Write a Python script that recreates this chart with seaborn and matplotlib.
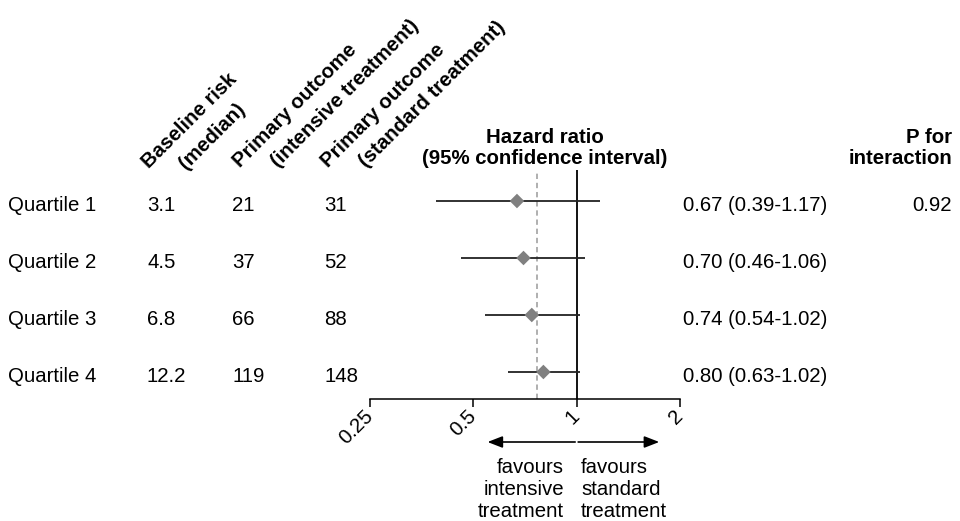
import numpy as np
import pandas as pd
import seaborn as sns
import matplotlib
matplotlib.use("Agg")
import matplotlib.pyplot as plt
from matplotlib import transforms

# ---- data ----
quartiles = ["Quartile 1", "Quartile 2", "Quartile 3", "Quartile 4"]
baseline_risk = [3.1, 4.5, 6.8, 12.2]
events_intensive = [21, 37, 66, 119]
events_standard = [31, 52, 88, 148]
hazard_ratio = [0.67, 0.70, 0.74, 0.80]
ci_low = [0.39, 0.46, 0.54, 0.63]
ci_high = [1.17, 1.06, 1.02, 1.02]
p_interaction = ["0.92", "", "", ""]
overall_hr = 0.765
x_ticks = [0.25, 0.5, 1, 2]
x_tick_labels = ["0.25", "0.5", "1", "2"]

df = pd.DataFrame({
    "quartile": quartiles,
    "row": np.arange(len(quartiles)),
    "hr": hazard_ratio,
    "lo": ci_low,
    "hi": ci_high,
})

sns.set_style("white")
plt.rcParams["font.family"] = ["Liberation Sans", "DejaVu Sans"]
plt.rcParams["text.color"] = "black"

W, H, DPI = 960, 521, 100
fig = plt.figure(figsize=(W / DPI, H / DPI), dpi=DPI)

def fx(px):
    return px / W

def fy(py):
    return 1 - py / H

ax = fig.add_axes([fx(370), fy(399), fx(680) - fx(370), (399 - 170) / H])
ax.set_xscale("log", base=2)
ax.set_xlim(0.25, 2)
ax.set_ylim(3.474, -0.544)

# reference lines
ax.axvline(1, color="black", lw=1.3, zorder=1)
ax.axvline(overall_hr, color="#9a9a9a", lw=1.1, ls=(0, (3.5, 2.5)), zorder=1)

# CI lines
ax.hlines(df["row"], df["lo"], df["hi"], color="#222222", lw=1.3, zorder=2)
sns.scatterplot(data=df, x="hr", y="row", marker="D", s=55, color="#808080",
                edgecolor="none", ax=ax, zorder=3, legend=False)

fs = 14.7
ax.set_xlabel("")
ax.set_ylabel("")
ax.set_yticks([])
ax.set_xticks(x_ticks)
ax.set_xticklabels(x_tick_labels, rotation=45, ha="right", va="center",
                   rotation_mode="anchor", fontsize=fs)
ax.xaxis.set_minor_locator(matplotlib.ticker.NullLocator())
ax.tick_params(axis="x", bottom=True, direction="out", length=6, width=1.1,
               color="black", pad=4, labelcolor="black")
sns.despine(ax=ax, left=True, top=True, right=True)
ax.spines["bottom"].set_color("black")
ax.spines["bottom"].set_linewidth(1.1)
ax.set_facecolor("none")

# row texts: x in figure fraction, y in data (baseline shifted a little below row)
blend = transforms.blended_transform_factory(fig.transFigure, ax.transData)
row_tr = transforms.offset_copy(blend, fig=fig, x=0, y=-10, units="dots")
for i, q in enumerate(quartiles):
    ax.text(fx(8), i, q, transform=row_tr, fontsize=fs, ha="left", va="baseline")
    ax.text(fx(147), i, f"{baseline_risk[i]:.1f}", transform=row_tr, fontsize=fs,
            ha="left", va="baseline")
    ax.text(fx(232), i, f"{events_intensive[i]}", transform=row_tr, fontsize=fs,
            ha="left", va="baseline")
    ax.text(fx(324), i, f"{events_standard[i]}", transform=row_tr, fontsize=fs,
            ha="left", va="baseline")
    ax.text(fx(683), i, f"{hazard_ratio[i]:.2f} ({ci_low[i]:.2f}-{ci_high[i]:.2f})",
            transform=row_tr, fontsize=fs, ha="left", va="baseline")
    if p_interaction[i]:
        ax.text(fx(952), i, p_interaction[i], transform=row_tr, fontsize=fs,
                ha="right", va="baseline")

# rotated column headers
rot_headers = [
    ("Baseline risk", 149, 169), ("(median)", 186, 170),
    ("Primary outcome", 240, 168), ("(intensive treatment)", 278, 168),
    ("Primary outcome", 328, 168), ("(standard treatment)", 366, 168),
]
for txt, px, py in rot_headers:
    fig.text(fx(px), fy(py), txt, rotation=45, rotation_mode="anchor",
             ha="left", va="baseline", fontsize=fs, fontweight="bold")

# straight headers
fig.text(fx(545), fy(143), "Hazard ratio", ha="center", va="baseline",
         fontsize=fs, fontweight="bold")
fig.text(fx(545), fy(164), "(95% confidence interval)", ha="center", va="baseline",
         fontsize=fs, fontweight="bold")
fig.text(fx(952), fy(143), "P for", ha="right", va="baseline",
         fontsize=fs, fontweight="bold")
fig.text(fx(952), fy(164), "interaction", ha="right", va="baseline",
         fontsize=fs, fontweight="bold")

# favours arrows
arrow_y = fy(442)
ax.annotate("", xy=(0.55, arrow_y), xytext=(0.99, arrow_y),
            xycoords=("data", "figure fraction"), textcoords=("data", "figure fraction"),
            arrowprops=dict(arrowstyle="-|>,head_length=0.9,head_width=0.35",
                            color="black", lw=1.2, shrinkA=0, shrinkB=0),
            annotation_clip=False)
ax.annotate("", xy=(1.74, arrow_y), xytext=(1.01, arrow_y),
            xycoords=("data", "figure fraction"), textcoords=("data", "figure fraction"),
            arrowprops=dict(arrowstyle="-|>,head_length=0.9,head_width=0.35",
                            color="black", lw=1.2, shrinkA=0, shrinkB=0),
            annotation_clip=False)

for line, py in zip(["favours", "intensive", "treatment"], [473, 495, 517]):
    fig.text(fx(564), fy(py), line, ha="right", va="baseline", fontsize=fs)
for line, py in zip(["favours", "standard", "treatment"], [473, 495, 517]):
    fig.text(fx(581), fy(py), line, ha="left", va="baseline", fontsize=fs)

fig.savefig("out.png", dpi=DPI, facecolor="white")
